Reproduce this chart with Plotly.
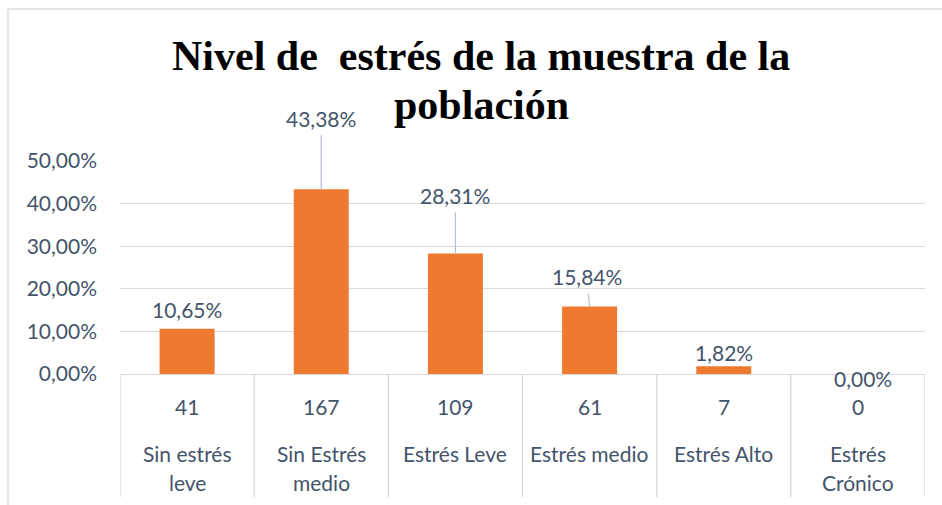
import plotly.graph_objects as go

# ---------------- data ----------------
categories = ["Sin estrés leve", "Sin Estrés medio", "Estrés Leve",
              "Estrés medio", "Estrés Alto", "Estrés Crónico"]
category_lines = [["Sin estrés", "leve"], ["Sin Estrés", "medio"], ["Estrés Leve"],
                  ["Estrés medio"], ["Estrés Alto"], ["Estrés", "Crónico"]]
counts = [41, 167, 109, 61, 7, 0]
percentages = [0.1065, 0.4338, 0.2831, 0.1584, 0.0182, 0.0]
percent_labels = ["10,65%", "43,38%", "28,31%", "15,84%", "1,82%", "0,00%"]
y_ticks = [0.0, 0.1, 0.2, 0.3, 0.4, 0.5]
title_lines = ["Nivel de\u00a0 estrés de la muestra de la", "población"]

# ---------------- styling ----------------
W, H = 942, 505
ML, MR, MT, MB = 120, 17, 161, 131
PW, PH = W - ML - MR, H - MT - MB
TXT = "#44546A"
GRID = "#D9D9D9"
FONT = "Lato"
FS = 21

def px_x(p):
    return (p - ML) / PW

def px_y(p):
    return (H - MB - p) / PH

# label offsets (pixels): (dx, dy, leader line)
label_style = [(0, -19, False), (0, -71, True), (0, -58, True),
               (-3, -30, True), (0, -14, False), (5, 4, False)]

fig = go.Figure()
fig.add_trace(go.Bar(
    x=categories, y=percentages,
    marker=dict(color="#EE7A30", line=dict(width=0)),
    width=0.41, hoverinfo="skip",
))

annotations = []
for cat, v, lab, (dx, dy, line) in zip(categories, percentages, percent_labels, label_style):
    if line:
        annotations.append(dict(x=cat, y=v, xref="x", yref="y", text=lab,
                                showarrow=True, arrowhead=0, arrowwidth=1.2,
                                arrowcolor="#B4BFCF", ax=dx, ay=dy, standoff=0,
                                borderpad=4,
                                font=dict(family=FONT, size=FS, color=TXT)))
    else:
        annotations.append(dict(x=cat, y=v, xref="x", yref="y", text=lab,
                                showarrow=False, xshift=dx, yshift=-dy,
                                font=dict(family=FONT, size=FS, color=TXT)))

for cat, c, lines in zip(categories, counts, category_lines):
    annotations.append(dict(x=cat, y=0, xref="x", yref="paper", text=str(c),
                            showarrow=False, yanchor="middle", yshift=-32,
                            font=dict(family=FONT, size=FS, color=TXT)))
    for k, ln in enumerate(lines):
        annotations.append(dict(x=cat, y=0, xref="x", yref="paper", text=ln,
                                showarrow=False, yanchor="middle",
                                yshift=-(79 + 29 * k),
                                font=dict(family=FONT, size=FS, color=TXT)))

# title, one annotation per line
for k, ln in enumerate(title_lines):
    annotations.append(dict(x=px_x(481), y=px_y(56 + 49 * k), xref="paper", yref="paper",
                            text=ln, showarrow=False, xanchor="center", yanchor="middle",
                            font=dict(family="Liberation Serif", size=42, color="black",
                                      weight="bold")))

shapes = []
for i in range(len(categories) + 1):
    shapes.append(dict(type="line", xref="x", yref="paper",
                       x0=i - 0.5, x1=i - 0.5, y0=0, y1=px_y(497),
                       line=dict(color=GRID, width=1.3)))
# chart frame (top and left edges)
FR = "#D9DDE3"
shapes.append(dict(type="line", xref="paper", yref="paper",
                   x0=px_x(8), x1=px_x(W + 5), y0=px_y(9), y1=px_y(9),
                   line=dict(color=FR, width=1.5)))
shapes.append(dict(type="line", xref="paper", yref="paper",
                   x0=px_x(8), x1=px_x(8), y0=px_y(9), y1=px_y(H + 5),
                   line=dict(color=FR, width=1.5)))

fig.update_layout(
    width=W, height=H,
    margin=dict(l=ML, r=MR, t=MT, b=MB),
    paper_bgcolor="white", plot_bgcolor="white",
    separators=", ",
    showlegend=False,
    xaxis=dict(type="category", showticklabels=False, showgrid=False,
               showline=True, linecolor=GRID, linewidth=1.3, ticks="",
               range=[-0.5, len(categories) - 0.5], zeroline=False),
    yaxis=dict(range=[0, 0.5], tickvals=y_ticks, tickformat=".2%",
               showgrid=True, gridcolor=GRID, gridwidth=1.3, zeroline=False,
               showline=False, ticks="", ticklabelstandoff=22,
               tickfont=dict(family=FONT, size=FS, color=TXT)),
    annotations=annotations,
    shapes=shapes,
)

fig.write_html("out.html", config={"displayModeBar": False},
               post_script="document.body.style.margin='0';document.body.style.overflow='hidden';")
